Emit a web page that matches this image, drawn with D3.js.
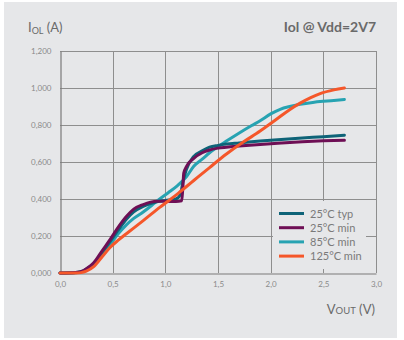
<!DOCTYPE html>
<html>
<head>
<meta charset="utf-8">
<script src="https://cdn.jsdelivr.net/npm/d3@7"></script>
<style>
  html, body { margin: 0; padding: 0; background: #ffffff; }
  svg { display: block; font-family: Lato, "Open Sans", sans-serif; }
</style>
</head>
<body>
<div id="main"></div>
<script>
const xTicks = [0, 0.5, 1.0, 1.5, 2.0, 2.5, 3.0];
const yTicks = [0, 0.2, 0.4, 0.6, 0.8, 1.0, 1.2];

const seriesNames = ['25°C typ', '25°C min', '85°C min', '125°C min'];
const seriesColours = ['#0e6378', '#6e0f55', '#27a3b2', '#f5572a'];

// 25°C typ
const vTyp = [0, 0.15, 0.22, 0.28, 0.32, 0.4, 0.475, 0.55, 0.63, 0.7, 0.79, 0.86, 0.92, 1.0, 1.1, 1.14, 1.17, 1.2, 1.27, 1.35, 1.42, 1.5, 1.58, 1.7, 1.9, 2.1, 2.3, 2.5, 2.7];
const iTyp = [0, 0.003, 0.012, 0.033, 0.05, 0.11, 0.17, 0.23, 0.29, 0.33, 0.36, 0.375, 0.385, 0.392, 0.4, 0.42, 0.5, 0.56, 0.63, 0.66, 0.68, 0.69, 0.697, 0.703, 0.713, 0.722, 0.73, 0.737, 0.745];
// 25°C min
const vMin25 = [0, 0.15, 0.22, 0.28, 0.32, 0.4, 0.475, 0.55, 0.63, 0.7, 0.79, 0.86, 0.92, 1.0, 1.1, 1.155, 1.165, 1.175, 1.2, 1.27, 1.35, 1.42, 1.5, 1.58, 1.7, 1.9, 2.1, 2.3, 2.5, 2.7];
const iMin25 = [0, 0.003, 0.012, 0.035, 0.055, 0.12, 0.18, 0.245, 0.305, 0.345, 0.37, 0.383, 0.388, 0.388, 0.386, 0.39, 0.45, 0.54, 0.575, 0.62, 0.65, 0.665, 0.675, 0.68, 0.686, 0.695, 0.703, 0.71, 0.715, 0.718];
// 85°C min
const vMin85 = [0, 0.15, 0.22, 0.28, 0.32, 0.4, 0.475, 0.55, 0.63, 0.7, 0.79, 0.87, 0.95, 1.03, 1.11, 1.2, 1.27, 1.35, 1.42, 1.5, 1.58, 1.66, 1.74, 1.82, 1.9, 2.0, 2.09, 2.18, 2.28, 2.4, 2.5, 2.6, 2.7];
const iMin85 = [0, 0.002, 0.01, 0.028, 0.045, 0.1, 0.152, 0.21, 0.26, 0.295, 0.33, 0.365, 0.402, 0.435, 0.47, 0.52, 0.577, 0.615, 0.65, 0.683, 0.713, 0.742, 0.77, 0.797, 0.823, 0.86, 0.885, 0.9, 0.912, 0.922, 0.928, 0.933, 0.938];
// 125°C min
const vMin125 = [0, 0.15, 0.2, 0.25, 0.32, 0.4, 0.475, 0.55, 0.63, 0.79, 0.95, 1.125, 1.27, 1.42, 1.58, 1.74, 1.9, 2.0, 2.09, 2.18, 2.28, 2.38, 2.47, 2.6, 2.7];
const iMin125 = [0, 0, 0.002, 0.01, 0.034, 0.088, 0.138, 0.176, 0.212, 0.283, 0.356, 0.432, 0.5, 0.57, 0.643, 0.708, 0.767, 0.808, 0.846, 0.883, 0.918, 0.948, 0.97, 0.99, 1.0];

const seriesV = [vTyp, vMin25, vMin85, vMin125];
const seriesI = [iTyp, iMin25, iMin85, iMin125];

const WIDTH = 404, HEIGHT = 340;
const fmtX = d3.format('.1f'), fmtY = d3.format('.3f');
const comma = (s) => s.replace('.', ',');

const svg = d3.select('#main').append('svg').attr('width', WIDTH).attr('height', HEIGHT);
svg.append('rect').attr('x', 4).attr('y', 2).attr('width', 393).attr('height', 336).attr('fill', '#e6e7e9');

const scaleX = d3.scaleLinear().domain([0, 3]).range([60, 376]);
const scaleY = d3.scaleLinear().domain([0, 1.2]).range([273, 51]);

// grid
const grid = svg.append('g').attr('stroke', '#8e8e8e').attr('stroke-width', 1);
grid.selectAll('line.v').data(xTicks.slice(1)).enter().append('line')
    .attr('x1', (d) => Math.round(scaleX(d)) + 0.5).attr('x2', (d) => Math.round(scaleX(d)) + 0.5)
    .attr('y1', scaleY(1.2)).attr('y2', scaleY(0));
grid.selectAll('line.h').data(yTicks.slice(1)).enter().append('line')
    .attr('y1', (d) => Math.round(scaleY(d)) + 0.5).attr('y2', (d) => Math.round(scaleY(d)) + 0.5)
    .attr('x1', scaleX(0)).attr('x2', scaleX(3));

// axes
const axisX = d3.axisBottom(scaleX).tickValues(xTicks).tickSize(0).tickPadding(8).tickFormat((d) => comma(fmtX(d)));
const axisY = d3.axisLeft(scaleY).tickValues(yTicks).tickSize(0).tickPadding(9).tickFormat((d) => comma(fmtY(d)));
const gx = svg.append('g').attr('transform', `translate(0, ${Math.round(scaleY(0)) + 0.5})`).call(axisX);
const gy = svg.append('g').attr('transform', `translate(${Math.round(scaleX(0)) + 0.5}, 0)`).call(axisY);
[gx, gy].forEach((g) => {
    g.select('.domain').attr('stroke', '#7a7a7a').attr('stroke-width', 1.2);
    g.selectAll('text').attr('fill', '#8a8a8a').attr('font-size', 8).attr('font-family', 'Lato, sans-serif');
});

// legend box (hides grid behind it)
svg.append('rect').attr('x', 273).attr('y', 201).attr('width', 93).attr('height', 68).attr('fill', '#e6e7e9');

// curves
const line = d3.line().x((d) => scaleX(d[0])).y((d) => scaleY(d[1])).curve(d3.curveMonotoneX);
const drawOrder = [2, 0, 1, 3];
drawOrder.forEach((k) => {
    const pts = seriesV[k].map((v, j) => [v, seriesI[k][j]]);
    svg.append('path').datum(pts).attr('d', line)
        .attr('fill', 'none').attr('stroke', seriesColours[k]).attr('stroke-width', 3)
        .attr('stroke-linecap', 'round').attr('stroke-linejoin', 'round');
});

// legend
const legend = svg.append('g');
const rows = legend.selectAll('g').data(seriesNames).enter().append('g')
    .attr('transform', (d, i) => `translate(279, ${213.5 + i * 14.2})`);
rows.append('line').attr('x1', 0).attr('x2', 25).attr('y1', 0).attr('y2', 0)
    .attr('stroke', (d, i) => seriesColours[i]).attr('stroke-width', 3);
rows.append('text').attr('x', 31).attr('y', 4).attr('font-size', 11).attr('fill', '#7a7a7a').text((d) => d);

// titles
svg.append('text').attr('x', 376).attr('y', 32).attr('text-anchor', 'end')
    .attr('font-size', 14).attr('font-weight', 'bold').attr('fill', '#6a6a6a').text('Iol @ Vdd=2V7');

const yTitle = svg.append('text').attr('x', 28).attr('y', 32).attr('font-size', 13).attr('fill', '#6a6a6a');
yTitle.append('tspan').text('I');
yTitle.append('tspan').attr('font-size', 9).attr('dy', 2).text('OL');
yTitle.append('tspan').attr('dy', -2).text(' (A)');

const xTitle = svg.append('text').attr('x', 375).attr('y', 314).attr('text-anchor', 'end').attr('font-size', 13).attr('fill', '#6a6a6a');
xTitle.append('tspan').text('V');
xTitle.append('tspan').attr('font-size', 9.5).text('OUT');
xTitle.append('tspan').text(' (V)');
</script>
</body>
</html>
